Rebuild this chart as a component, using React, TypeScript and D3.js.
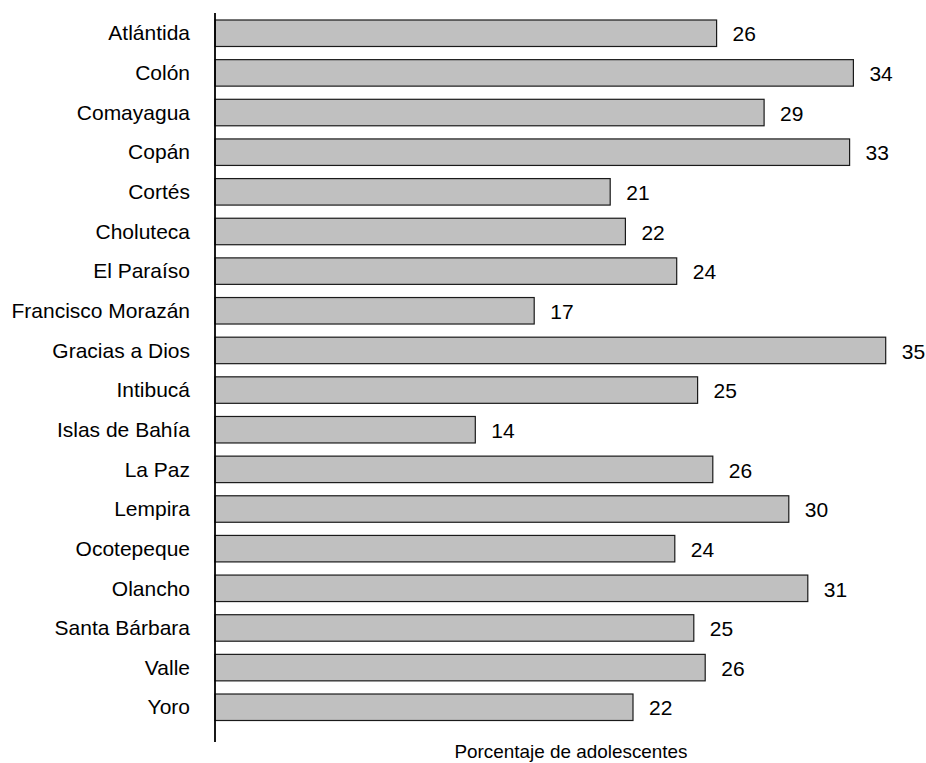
import React from "react";
import * as d3 from "d3";

const categories = [
  "Atlántida", "Colón", "Comayagua", "Copán", "Cortés", "Choluteca",
  "El Paraíso", "Francisco Morazán", "Gracias a Dios", "Intibucá",
  "Islas de Bahía", "La Paz", "Lempira", "Ocotepeque", "Olancho",
  "Santa Bárbara", "Valle", "Yoro",
];
const values = [
  26.4, 33.6, 28.9, 33.4, 20.8, 21.6, 24.3, 16.8, 35.3, 25.4,
  13.7, 26.2, 30.2, 24.2, 31.2, 25.2, 25.8, 22.0,
];
const labels = [
  "26", "34", "29", "33", "21", "22", "24", "17", "35", "25",
  "14", "26", "30", "24", "31", "25", "26", "22",
];
const xTitle = "Porcentaje de adolescentes";

const W = 926;
const H = 763;
const FONT = "Liberation Sans, Arial, Helvetica, sans-serif";
const SX = 1.05;

export default function App() {
  const x = d3.scaleLinear().domain([0, 40]).range([215, 975]);
  const y = d3
    .scaleBand<string>()
    .domain(categories)
    .range([20, 720.5])
    .paddingInner(0.332)
    .paddingOuter(0);

  return (
    <svg
      width={W}
      height={H}
      style={{ position: "absolute", left: 0, top: 0, background: "#fff" }}
      fontFamily={FONT}
    >
      {categories.map((c, i) => {
        const yy = y(c)!;
        const bw = y.bandwidth();
        const cy = yy + bw / 2;
        return (
          <g key={c}>
            <rect
              x={x(0)}
              y={yy}
              width={x(values[i]) - x(0)}
              height={bw}
              fill="#c0c0c0"
              stroke="#1a1a1a"
              strokeWidth={1.2}
            />
            <text
              transform={`translate(190,${cy}) scale(${SX},1)`}
              dy="0.36em"
              textAnchor="end"
              fontSize={20}
              fill="#000"
            >
              {c}
            </text>
            <text
              transform={`translate(${x(values[i]) + 16},${cy + 1}) scale(${SX},1)`}
              dy="0.36em"
              textAnchor="start"
              fontSize={20}
              fill="#000"
            >
              {labels[i]}
            </text>
          </g>
        );
      })}
      <line x1={215} x2={215} y1={13} y2={742} stroke="#000" strokeWidth={1.8} />
      <text
        transform={`translate(571,758) scale(${SX},1)`}
        textAnchor="middle"
        fontSize={18}
        fill="#000"
      >
        {xTitle}
      </text>
    </svg>
  );
}
